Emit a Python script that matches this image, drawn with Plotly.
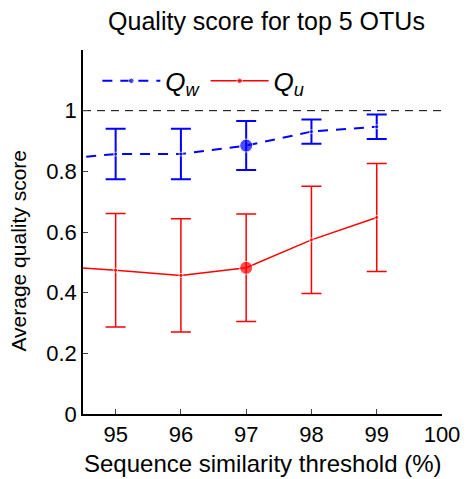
import plotly.graph_objects as go

# Similarity thresholds (%) and average quality scores for the top 5 OTUs
threshold = [94, 95, 96, 97, 98, 99]
q_w = [0.837, 0.857, 0.857, 0.885, 0.931, 0.947]
q_w_err = [0.0, 0.083, 0.083, 0.081, 0.040, 0.040]
q_u = [0.488, 0.474, 0.457, 0.482, 0.574, 0.648]
q_u_err = [0.0, 0.187, 0.187, 0.177, 0.177, 0.178]
# the chosen 97% threshold is highlighted with a large marker
marker_size = [4, 4, 4, 13, 4, 4]

x_ticks = [95, 96, 97, 98, 99, 100]
y_ticks = [0, 0.2, 0.4, 0.6, 0.8, 1]
y_tick_text = ["0", "0.2", "0.4", "0.6", "0.8", "1"]

FONT = "Liberation Sans, Arial, sans-serif"

fig = go.Figure()
fig.add_trace(go.Scatter(
    x=threshold, y=q_w, mode="lines+markers", name="<i>Q</i><sub><i>w</i></sub>",
    line=dict(color="#0000ff", width=2, dash="10px,8px"),
    marker=dict(color="#0000ff", size=marker_size),
    error_y=dict(type="data", array=q_w_err, color="#0000ff", thickness=2, width=10),
))
fig.add_trace(go.Scatter(
    x=threshold, y=q_u, mode="lines+markers", name="<i>Q</i><sub><i>u</i></sub>",
    line=dict(color="#ff0000", width=1.5),
    marker=dict(color="#ff0000", size=marker_size),
    error_y=dict(type="data", array=q_u_err, color="#ff0000", thickness=1.5, width=10),
))

# reference line at a perfect score
fig.add_shape(type="line", xref="x", yref="y", x0=94.5, x1=100, y0=1, y1=1,
              line=dict(color="black", width=1, dash="8px,6px"), layer="below")

fig.update_layout(
    width=472, height=479,
    margin=dict(l=83, r=22, t=50, b=65),
    paper_bgcolor="white", plot_bgcolor="white",
    font=dict(family=FONT, size=22, color="black"),
    showlegend=True,
    legend=dict(orientation="h", x=0.04, y=0.915, xanchor="left", yanchor="middle",
                bgcolor="rgba(0,0,0,0)", font=dict(size=26), itemwidth=58,
                tracegroupgap=0),
    title=dict(text="Quality score for top 5 OTUs", x=(83 + 450) / 2 / 472,
               xanchor="center", y=1 - 21 / 479, yanchor="middle",
               font=dict(size=25)),
    xaxis=dict(range=[94.5, 100], tickvals=x_ticks, ticks="inside", ticklen=5,
               tickwidth=1.2, showline=True, linecolor="black", linewidth=1.5,
               showgrid=False, zeroline=False, tickfont=dict(size=22)),
    yaxis=dict(range=[0, 1.2], tickvals=y_ticks, ticktext=y_tick_text,
               ticks="inside", ticklen=5, tickwidth=1.2, showline=True,
               linecolor="black", linewidth=1.5, showgrid=False, zeroline=False,
               tickfont=dict(size=22)),
    annotations=[
        dict(text="Sequence similarity threshold (%)", xref="paper", yref="paper",
             x=0.5, y=-0.135, xanchor="center", yanchor="middle",
             showarrow=False, font=dict(size=24)),
        dict(text="Average quality score", xref="paper", yref="paper",
             x=-0.18, y=0.45, xanchor="center", yanchor="middle", textangle=-90,
             showarrow=False, font=dict(size=21)),
    ],
)

fig.write_html("out.html")
